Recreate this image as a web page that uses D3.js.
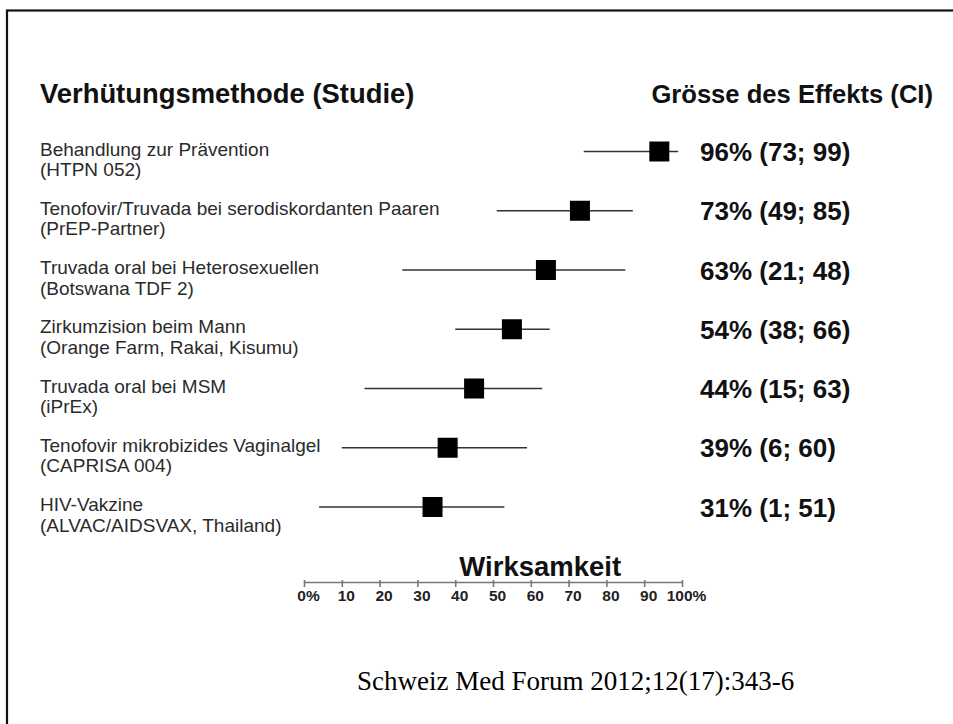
<!DOCTYPE html>
<html lang="de">
<head>
    <meta charset="UTF-8">
    <title>Wirksamkeit HIV-Prävention</title>
    <script src="https://cdn.jsdelivr.net/npm/d3@7"></script>
    <style>
        body { margin: 0; background: #fff; }
        text { font-family: "Liberation Sans", Arial, Helvetica, sans-serif; }
        text.source { font-family: "Liberation Serif", "Times New Roman", serif; }
    </style>
</head>
<body>
<div id="chart"></div>
<script>

    // studies, top to bottom
    const methods = [
        "Behandlung zur Prävention",
        "Tenofovir/Truvada bei serodiskordanten Paaren",
        "Truvada oral bei Heterosexuellen",
        "Zirkumzision beim Mann",
        "Truvada oral bei MSM",
        "Tenofovir mikrobizides Vaginalgel",
        "HIV-Vakzine"
    ];
    const studies = [
        "(HTPN 052)",
        "(PrEP-Partner)",
        "(Botswana TDF 2)",
        "(Orange Farm, Rakai, Kisumu)",
        "(iPrEx)",
        "(CAPRISA 004)",
        "(ALVAC/AIDSVAX, Thailand)"
    ];
    // values as drawn in the picture (percent)
    const effect = [94, 73, 64, 55, 45, 38, 34];
    const ciLow = [74, 51, 26, 40, 16, 10, 4];
    const ciHigh = [99, 87, 85, 65, 63, 59, 53];
    // printed effect sizes
    const effectLabels = [
        "96% (73; 99)",
        "73% (49; 85)",
        "63% (21; 48)",
        "54% (38; 66)",
        "44% (15; 63)",
        "39% (6; 60)",
        "31% (1; 51)"
    ];
    const ticks = [0, 10, 20, 30, 40, 50, 60, 70, 80, 90, 100];
    const tickLabels = ["0%", "10", "20", "30", "40", "50", "60", "70", "80", "90", "100%"];

    const width = 953, height = 724;

    const data = methods.map((m, i) => ({
        method: m, study: studies[i], est: effect[i],
        lo: ciLow[i], hi: ciHigh[i], label: effectLabels[i]
    }));

    const x = d3.scaleLinear().domain([0, 100]).range([304, 682]);
    const y = d3.scalePoint().domain(methods).range([151.5, 507]);

    const svg = d3.select("#chart")
        .append("svg")
        .attr("width", width)
        .attr("height", height)
        .attr("viewBox", [0, 0, width, height]);

    // frame
    svg.append("rect")
        .attr("x", 7).attr("y", 10.5)
        .attr("width", 1000).attr("height", 1000)
        .attr("fill", "none")
        .attr("stroke", "#111")
        .attr("stroke-width", 2.2);

    // headers
    svg.append("text")
        .attr("x", 40).attr("y", 103)
        .attr("font-size", 27.4).attr("font-weight", "bold")
        .attr("fill", "#111")
        .text("Verhütungsmethode (Studie)");

    svg.append("text")
        .attr("x", 933).attr("y", 103)
        .attr("text-anchor", "end")
        .attr("font-size", 25.6).attr("font-weight", "bold")
        .attr("fill", "#111")
        .text("Grösse des Effekts (CI)");

    const rows = svg.append("g")
        .selectAll("g")
        .data(data)
        .join("g")
        .attr("transform", d => `translate(0,${y(d.method)})`);

    // row labels
    const lab = rows.append("text")
        .attr("x", 40)
        .attr("font-size", 19)
        .attr("fill", "#2b2b2b");
    lab.append("tspan").attr("x", 40).attr("y", 4).text(d => d.method);
    lab.append("tspan").attr("x", 40).attr("y", 24.5).text(d => d.study);

    // confidence intervals
    rows.append("line")
        .attr("x1", d => x(d.lo))
        .attr("x2", d => x(d.hi))
        .attr("stroke", "#333")
        .attr("stroke-width", 1.6);

    // point estimates
    rows.append("rect")
        .attr("x", d => x(d.est) - 10)
        .attr("y", -10)
        .attr("width", 20).attr("height", 20)
        .attr("fill", "#000");

    // effect size text
    rows.append("text")
        .attr("x", 700).attr("y", 9.5)
        .attr("font-size", 26).attr("font-weight", "bold")
        .attr("fill", "#111")
        .text(d => d.label);

    // axis
    svg.append("g")
        .attr("transform", "translate(0,582)")
        .call(d3.axisBottom(x).tickValues(ticks).tickSizeInner(5).tickSizeOuter(0)
            .tickFormat((d, i) => tickLabels[i]))
        .call(g => g.select(".domain").attr("stroke", "#777").attr("stroke-width", 1.6))
        .call(g => g.selectAll(".tick line").attr("stroke", "#777").attr("stroke-width", 1.6).attr("y1", -2))
        .call(g => g.selectAll(".tick text")
            .attr("y", 19).attr("dy", 0).attr("dx", 4)
            .attr("font-size", 15.5).attr("font-weight", "bold")
            .attr("fill", "#222"));

    svg.append("text")
        .attr("x", x(62.5)).attr("y", 576)
        .attr("text-anchor", "middle")
        .attr("font-size", 27.5).attr("font-weight", "bold")
        .attr("fill", "#111")
        .text("Wirksamkeit");

    // source
    svg.append("text")
        .attr("class", "source")
        .attr("x", 357).attr("y", 690)
        .attr("font-size", 27)
        .attr("fill", "#000")
        .text("Schweiz Med Forum 2012;12(17):343-6");

</script>
</body>
</html>
